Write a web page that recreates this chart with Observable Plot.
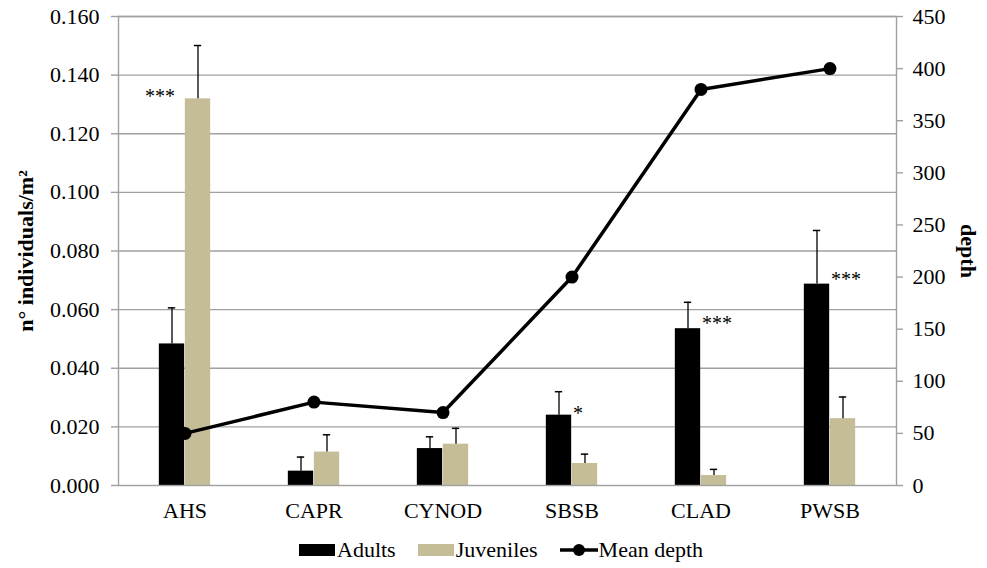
<!DOCTYPE html>
<html><head><meta charset="utf-8">
<script src="https://cdn.jsdelivr.net/npm/d3@7"></script>
<script src="https://cdn.jsdelivr.net/npm/@observablehq/plot@0.6"></script>
<style>
body{margin:0;background:#fff;font-family:"Liberation Serif","Times New Roman",Times,serif;}
#chart svg{display:block;}
#chart svg, #chart svg text{font-family:"Liberation Serif","Times New Roman",Times,serif !important;}
#legend{position:relative;height:38px;width:987px;}
#legend .inner{position:absolute;left:299px;top:7px;display:flex;align-items:center;font-size:22px;color:#000;}
#legend .item{display:flex;align-items:center;margin-right:22px;}
#legend .sw{width:36px;height:12px;margin-right:2px;}
</style></head><body>
<div id="chart"></div>
<div id="legend"></div>
<script>
const categories = ["AHS","CAPR","CYNOD","SBSB","CLAD","PWSB"];
const adults     = [0.0483,0.0049,0.0126,0.0240,0.0535,0.0687];
const adultsErr  = [0.0123,0.0048,0.0040,0.0080,0.0090,0.0183];
const juveniles    = [0.1319,0.0114,0.0141,0.0075,0.0034,0.0228];
const juvenilesErr = [0.0182,0.0059,0.0054,0.0032,0.0021,0.0074];
const meanDepth  = [50,80,70,200,380,400];
const leftTicks  = [0,0.02,0.04,0.06,0.08,0.10,0.12,0.14,0.16];
const rightTicks = [0,50,100,150,200,250,300,350,400,450];
const sigCategory = ["AHS","SBSB","CLAD","PWSB"];
const sigLabel    = ["***","*","***","***"];
const sigValue    = [0.1340,0.0258,0.0566,0.0716];
const sigSide     = ["left","right","right","right"];

const K = 0.16/450; // depth -> left axis units
const adultColor = "#000000", juvColor = "#C4BD97", gridColor = "#a0a0a0";
const FONT = '"Liberation Serif","Times New Roman",Times,serif';

const rows = categories.map((c,i)=>({c, a:adults[i], ae:adultsErr[i], j:juveniles[i], je:juvenilesErr[i], d:meanDepth[i]}));
const sig = sigCategory.map((c,i)=>({c, label:sigLabel[i], v:sigValue[i], side:sigSide[i]}));

const W = 987, H = 530, mL = 118, mR = 91, mT = 16, mB = 45;
const bandW = (W - mL - mR)/categories.length;
const half = bandW/2, barW = 26;

const chart = Plot.plot({
  width: W, height: H,
  marginLeft: mL, marginRight: mR, marginTop: mT, marginBottom: mB,
  style: {fontFamily: FONT, fontSize: "22px", color:"#000", background:"#fff"},
  x: {type:"band", domain: categories, padding: 0, label: null},
  y: {domain: [0, 0.16], label: null},
  marks: [
    Plot.ruleY(leftTicks.slice(1), {stroke: gridColor, strokeWidth: 1.4}),
    Plot.barY(rows, {x:"c", y:"a", fill: adultColor, insetLeft: half - barW, insetRight: half}),
    Plot.barY(rows, {x:"c", y:"j", fill: juvColor, insetLeft: half, insetRight: half - barW}),
    Plot.ruleX(rows, {x:"c", y1:"a", y2: d=>d.a+d.ae, dx: -barW/2, stroke:"#000", strokeWidth:1.3}),
    Plot.tickY(rows, {x:"c", y: d=>d.a+d.ae, dx: -barW/2, insetLeft: half-4, insetRight: half-4, stroke:"#000", strokeWidth:1.5}),
    Plot.ruleX(rows, {x:"c", y1:"j", y2: d=>d.j+d.je, dx: barW/2, stroke:"#000", strokeWidth:1.3}),
    Plot.tickY(rows, {x:"c", y: d=>d.j+d.je, dx: barW/2, insetLeft: half-4, insetRight: half-4, stroke:"#000", strokeWidth:1.5}),
    Plot.frame({stroke: gridColor, strokeWidth: 1.4}),
    Plot.line(rows, {x:"c", y: d=>d.d*K, stroke:"#000", strokeWidth: 3.5, strokeLinejoin:"round"}),
    Plot.dot(rows, {x:"c", y: d=>d.d*K, r: 6.5, fill:"#000", stroke:"none"}),
    Plot.text(sig.filter(d=>d.side==="right"), {x:"c", y:"v", text:"label", textAnchor:"start", dx: 1, dy: 4, fontSize: 20, fill:"#000"}),
    Plot.text(sig.filter(d=>d.side==="left"), {x:"c", y:"v", text:"label", textAnchor:"end", dx: -10, dy: 4, fontSize: 20, fill:"#000"}),
    Plot.axisY(leftTicks, {anchor:"left", tickSize: 7, tickPadding: 12, stroke: gridColor, strokeWidth: 1.4, tickFormat: d=>d.toFixed(3), label: null, fontSize: 22}),
    Plot.axisY(rightTicks.map(d=>d*K), {anchor:"right", tickSize: 6, tickPadding: 10, stroke: gridColor, strokeWidth: 1.4, tickFormat: v=>String(Math.round(v/K)), label: null, fontSize: 22}),
    Plot.axisX({anchor:"bottom", tickSize: 0, tickPadding: 17, label: null, fontSize: 22}),
    Plot.text(["n° individuals/m²"], {frameAnchor:"left", textAnchor:"middle", lineAnchor:"middle", dx: -93, rotate: -90, fontWeight:"bold", fontSize: 22, fill:"#000"}),
    Plot.text(["depth"], {frameAnchor:"right", textAnchor:"middle", lineAnchor:"middle", dx: 72, rotate: 90, fontWeight:"bold", fontSize: 22, fill:"#000"})
  ]
});
document.getElementById("chart").appendChild(chart);

const legendItems = [
  {label:"Adults", kind:"rect", color: adultColor},
  {label:"Juveniles", kind:"rect", color: juvColor},
  {label:"Mean depth", kind:"line", color:"#000"}
];
const inner = document.createElement("div");
inner.className = "inner";
for (const it of legendItems) {
  const item = document.createElement("div");
  item.className = "item";
  if (it.kind === "rect") {
    const sw = document.createElement("div");
    sw.className = "sw"; sw.style.background = it.color;
    item.appendChild(sw);
  } else {
    const ns = "http://www.w3.org/2000/svg";
    const s = document.createElementNS(ns, "svg");
    s.setAttribute("width", 38); s.setAttribute("height", 16);
    s.style.marginRight = "1px";
    const l = document.createElementNS(ns, "line");
    l.setAttribute("x1", 0); l.setAttribute("x2", 38); l.setAttribute("y1", 8); l.setAttribute("y2", 8);
    l.setAttribute("stroke", it.color); l.setAttribute("stroke-width", 3.5);
    const c = document.createElementNS(ns, "circle");
    c.setAttribute("cx", 19); c.setAttribute("cy", 8); c.setAttribute("r", 6); c.setAttribute("fill", it.color);
    s.appendChild(l); s.appendChild(c);
    item.appendChild(s);
  }
  const t = document.createElement("span");
  t.textContent = it.label;
  item.appendChild(t);
  inner.appendChild(item);
}
document.getElementById("legend").appendChild(inner);
</script>
</body></html>
